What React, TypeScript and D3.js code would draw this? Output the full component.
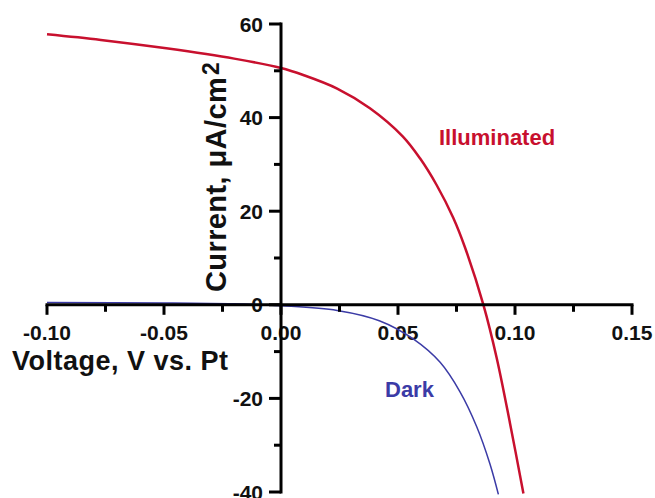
import React from "react";
import * as d3 from "d3";

const xTicks = [-0.1, -0.05, 0.0, 0.05, 0.1, 0.15];
const xTickLabels = ["-0.10", "-0.05", "0.00", "0.05", "0.10", "0.15"];
const xMinorTicks = [-0.075, -0.025, 0.025, 0.075, 0.125];
const yTicks = [-40, -20, 0, 20, 40, 60];
const yTickLabels = ["-40", "-20", "0", "20", "40", "60"];
const yMinorTicks = [-30, -10, 10, 30, 50];

const illumVoltage = [-0.1, -0.077, -0.049, -0.02, 0.0, 0.0095, 0.024, 0.038, 0.052, 0.0594, 0.0665, 0.0736, 0.0786, 0.0865, 0.0922, 0.0979, 0.1036];
const illumCurrent = [57.8, 56.6, 54.8, 52.6, 50.6, 49.1, 46.2, 42.0, 36.0, 31.3, 25.6, 18.6, 12.3, 0, -11.4, -25.4, -40.3];

const darkVoltage = [-0.1, -0.05, -0.02, 0.0, 0.024, 0.042, 0.0565, 0.068, 0.0765, 0.0836, 0.0893, 0.0929];
const darkCurrent = [0.5, 0.4, 0.2, -0.2, -1.2, -3.4, -7.3, -12.3, -18.6, -26.0, -34.0, -40.5];

const RED = "#c8102e";
const BLUE = "#3b3ba6";
const FONT = "'Liberation Sans', Arial, Helvetica, sans-serif";

export default function App() {
  const x = d3.scaleLinear().domain([-0.1, 0.15]).range([47, 632]);
  const y = d3.scaleLinear().domain([-40, 60]).range([492, 24]);
  const x0 = x(0);
  const y0 = y(0);

  const line = d3
    .line<[number, number]>()
    .x((d) => x(d[0]))
    .y((d) => y(d[1]))
    .curve(d3.curveCatmullRom.alpha(0.5));

  const illum = illumVoltage.map((v, i) => [v, illumCurrent[i]] as [number, number]);
  const dark = darkVoltage.map((v, i) => [v, darkCurrent[i]] as [number, number]);

  return (
    <svg
      width={655}
      height={498}
      style={{ position: "fixed", left: 0, top: 0, background: "#fff" }}
      fontFamily={FONT}
      fontWeight="bold"
    >
      <rect width={655} height={498} fill="#fff" />
      {xTicks.map((t, i) => (
        <text key={"xl" + i} x={x(t)} y={340} fontSize={21} textAnchor="middle" fill="#111">
          {xTickLabels[i]}
        </text>
      ))}
      {yTicks.map((t, i) => (
        <text key={"yl" + i} x={263} y={y(t) + 7.5} fontSize={21} textAnchor="end" fill="#111">
          {yTickLabels[i]}
        </text>
      ))}
      <path d={line(illum) || ""} fill="none" stroke={RED} strokeWidth={2.5} />
      <path d={line(dark) || ""} fill="none" stroke={BLUE} strokeWidth={1.5} />
      <line x1={x(-0.1) - 1.5} x2={x(0.15) + 1.5} y1={y0} y2={y0} stroke="#000" strokeWidth={3} />
      <line x1={x0} x2={x0} y1={y(60) - 1.5} y2={y(-40) + 1.5} stroke="#000" strokeWidth={3} />
      {xTicks.map((t, i) => (
        <line key={"xt" + i} x1={x(t)} x2={x(t)} y1={y0} y2={y0 + 10} stroke="#000" strokeWidth={3} />
      ))}
      {xMinorTicks.map((t, i) => (
        <line key={"xm" + i} x1={x(t)} x2={x(t)} y1={y0} y2={y0 + 7} stroke="#000" strokeWidth={3} />
      ))}
      {yTicks.map((t, i) => (
        <line key={"yt" + i} x1={x0 - 12} x2={x0} y1={y(t)} y2={y(t)} stroke="#000" strokeWidth={3} />
      ))}
      {yMinorTicks.map((t, i) => (
        <line key={"ym" + i} x1={x0 - 7} x2={x0} y1={y(t)} y2={y(t)} stroke="#000" strokeWidth={3} />
      ))}
      <text x={12} y={370} fontSize={27} letterSpacing={0.5} fill="#111">
        Voltage, V vs. Pt
      </text>
      <text transform={`translate(226,292) rotate(-90)`} fontSize={29} letterSpacing={0.4} fill="#111">
        Current, μA/cm
        <tspan fontSize={23} dx={2} dy={-7}>2</tspan>
      </text>
      <text x={439} y={145} fontSize={22} fill={RED}>
        Illuminated
      </text>
      <text x={385} y={397} fontSize={22} fill={BLUE}>
        Dark
      </text>
    </svg>
  );
}
